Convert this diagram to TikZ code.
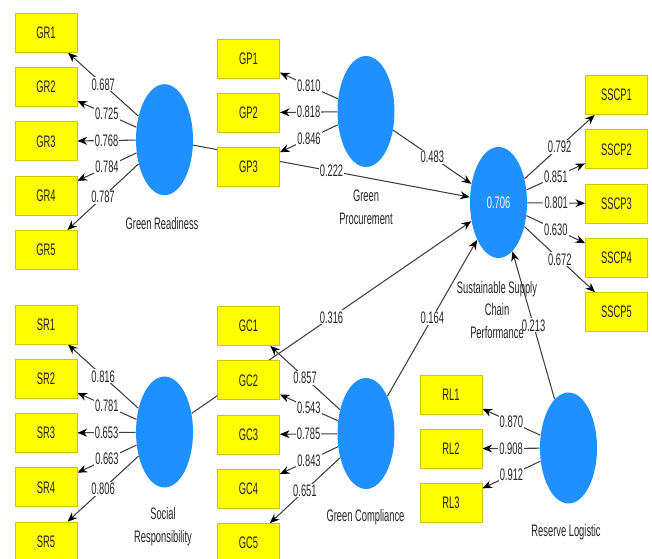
\documentclass[tikz,border=0pt]{standalone}
\usepackage{fontspec}
\setmainfont[FakeStretch=0.56]{Liberation Sans}
\usepackage{xcolor}
\usetikzlibrary{positioning,shapes.geometric,arrows.meta}
\definecolor{itemyellow}{HTML}{FFFF00}
\definecolor{itemborder}{HTML}{D2C200}
\definecolor{latentblue}{HTML}{1E90FF}
\pgfdeclarelayer{canvas}
\pgfdeclarelayer{background}
\pgfsetlayers{canvas,background,main}
\tikzstyle{indicator} = [rectangle, minimum width=1.24cm, minimum height=0.78cm, text centered, draw=itemborder, line width=0.5pt, fill=itemyellow, text=black!85, font=\fontsize{9.5}{11}\selectfont]
\tikzstyle{latent} = [ellipse, minimum width=1.14cm, minimum height=2.22cm, inner sep=0pt, fill=latentblue, text=white, font=\fontsize{9.5}{11}\selectfont]
\tikzstyle{caption} = [align=center, text=black!85, font=\fontsize{9.5}{13}\selectfont]
\tikzstyle{coef} = [fill=white, inner sep=0.6pt, text=black!85, font=\fontsize{9.5}{11}\selectfont]
\tikzstyle{arrow} = [draw=black!75, line width=0.6pt, -{Stealth[length=5.5pt,width=4.5pt,color=black]}]

\begin{document}
\begin{tikzpicture}[x=0.02cm, y=-0.02cm, node distance=1.086cm]
	\clip (0,0) rectangle (652,558);
	\begin{pgfonlayer}{canvas}
	\fill[white] (0,0) rectangle (652,558);
	\end{pgfonlayer}

	% latent variables
	\node (gr) [latent] at (164.5,139.7) {};
	\node (gp) [latent] at (366,111.5) {};
	\node (sscp) [latent] at (498.5,202.5) {0.706};
	\node (sr) [latent] at (164.5,432) {};
	\node (gc) [latent] at (366,433.5) {};
	\node (rl) [latent] at (568.5,448) {};

	\node (grcap) [caption] at (162,224) {Green Readiness};
	\node (gpcap) [caption] at (366,207) {Green\\Procurement};
	\node (sscpcap) [caption] at (497,310) {Sustainable Supply\\Chain\\Performance};
	\node (srcap) [caption] at (163,526.5) {Social\\Responsibility};
	\node (gccap) [caption] at (365.5,517) {Green Compliance};
	\node (rlcap) [caption] at (566,532) {Reserve Logistic};

	% indicators
	\node (gr1) [indicator] at (46,32.8) {GR1};
	\node (gr2) [indicator, below of=gr1] {GR2};
	\node (gr3) [indicator, below of=gr2] {GR3};
	\node (gr4) [indicator, below of=gr3] {GR4};
	\node (gr5) [indicator, below of=gr4] {GR5};

	\node (gp1) [indicator] at (248.5,58.5) {GP1};
	\node (gp2) [indicator, below of=gp1] {GP2};
	\node (gp3) [indicator, below of=gp2] {GP3};

	\node (sscp1) [indicator] at (616.5,95) {SSCP1};
	\node (sscp2) [indicator, below of=sscp1] {SSCP2};
	\node (sscp3) [indicator, below of=sscp2] {SSCP3};
	\node (sscp4) [indicator, below of=sscp3] {SSCP4};
	\node (sscp5) [indicator, below of=sscp4] {SSCP5};

	\node (sr1) [indicator] at (46,324.5) {SR1};
	\node (sr2) [indicator, below of=sr1] {SR2};
	\node (sr3) [indicator, below of=sr2] {SR3};
	\node (sr4) [indicator, below of=sr3] {SR4};
	\node (sr5) [indicator, below of=sr4] {SR5};

	\node (gc1) [indicator] at (248.5,326) {GC1};
	\node (gc2) [indicator, below of=gc1] {GC2};
	\node (gc3) [indicator, below of=gc2] {GC3};
	\node (gc4) [indicator, below of=gc3] {GC4};
	\node (gc5) [indicator, below of=gc4] {GC5};

	\node (rl1) [indicator] at (451,394.5) {RL1};
	\node (rl2) [indicator, below of=rl1] {RL2};
	\node (rl3) [indicator, below of=rl2] {RL3};

	\begin{pgfonlayer}{background}
	% structural paths
	\draw [arrow] (gr) -- node[coef] {0.222} (sscp);
	\draw [arrow] (gp) -- node[coef] {0.483} (sscp);
	\draw [arrow] (sr) -- node[coef] {0.316} (sscp);
	\draw [arrow] (gc) -- node[coef] {0.164} (sscp);
	\draw [arrow] (rl) -- node[coef] {0.213} (sscp);

	% loadings
	\draw [arrow] (gr) -- node[coef] {0.687} (gr1);
	\draw [arrow] (gr) -- node[coef] {0.725} (gr2);
	\draw [arrow] (gr) -- node[coef] {0.768} (gr3);
	\draw [arrow] (gr) -- node[coef] {0.784} (gr4);
	\draw [arrow] (gr) -- node[coef] {0.787} (gr5);

	\draw [arrow] (gp) -- node[coef] {0.810} (gp1);
	\draw [arrow] (gp) -- node[coef] {0.818} (gp2);
	\draw [arrow] (gp) -- node[coef] {0.846} (gp3);

	\draw [arrow] (sscp) -- node[coef] {0.792} (sscp1);
	\draw [arrow] (sscp) -- node[coef] {0.851} (sscp2);
	\draw [arrow] (sscp) -- node[coef] {0.801} (sscp3);
	\draw [arrow] (sscp) -- node[coef] {0.630} (sscp4);
	\draw [arrow] (sscp) -- node[coef] {0.672} (sscp5);

	\draw [arrow] (sr) -- node[coef] {0.816} (sr1);
	\draw [arrow] (sr) -- node[coef] {0.781} (sr2);
	\draw [arrow] (sr) -- node[coef] {0.653} (sr3);
	\draw [arrow] (sr) -- node[coef] {0.663} (sr4);
	\draw [arrow] (sr) -- node[coef] {0.806} (sr5);

	\draw [arrow] (gc) -- node[coef] {0.857} (gc1);
	\draw [arrow] (gc) -- node[coef] {0.543} (gc2);
	\draw [arrow] (gc) -- node[coef] {0.785} (gc3);
	\draw [arrow] (gc) -- node[coef] {0.843} (gc4);
	\draw [arrow] (gc) -- node[coef] {0.651} (gc5);

	\draw [arrow] (rl) -- node[coef] {0.870} (rl1);
	\draw [arrow] (rl) -- node[coef] {0.908} (rl2);
	\draw [arrow] (rl) -- node[coef] {0.912} (rl3);
	\end{pgfonlayer}

\end{tikzpicture}
\end{document}
